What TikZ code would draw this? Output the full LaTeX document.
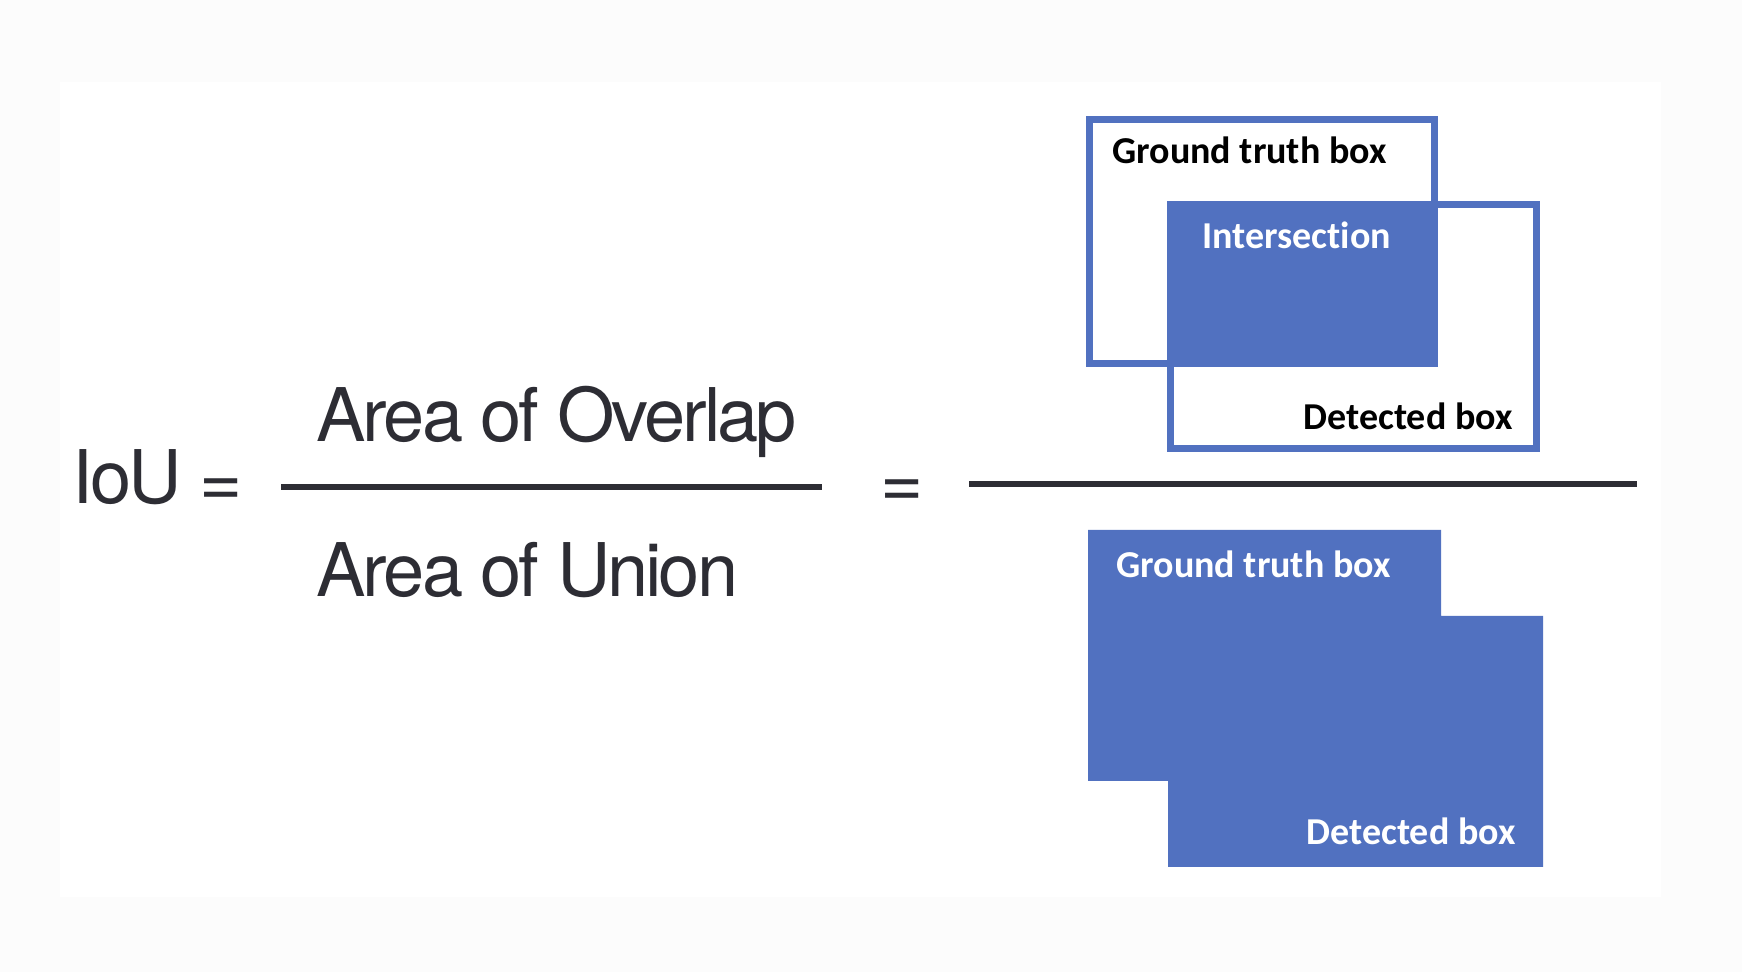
\documentclass[tikz,border=0pt]{standalone}
\usepackage{fontspec}
\newfontfamily\formfont[LetterSpace=-4]{TeX Gyre Heros}
\newfontfamily\boxfont[Ligatures=NoCommon]{Carlito}
\definecolor{boxblue}{RGB}{81,113,192}
\definecolor{inkgray}{RGB}{45,45,52}
\definecolor{outerbg}{RGB}{252,252,252}
\tikzset{
  formula/.style={font=\formfont\fontsize{37}{44}\selectfont, text=inkgray, inner sep=0pt, anchor=base west},
  lbl/.style={font=\boxfont\bfseries\fontsize{19}{23}\selectfont, inner sep=0pt, anchor=base west},
  outline/.style={draw=boxblue, line width=3.5pt},
  fillbox/.style={fill=boxblue},
  fracbar/.style={draw=inkgray, line width=2.7pt},
}
\begin{document}
\begin{tikzpicture}[x=0.5pt,y=-0.5pt]
\fill[outerbg] (0,0) rectangle (1742,972);
\fill[white] (60,82) rectangle (1661,897);
\useasboundingbox (0,0) rectangle (1742,972);

% left formula
\node[formula] (iou) at (72,504) {IoU};
\node[formula, anchor=base] (eq1) at (221,507) {=};
\node[formula] (overlap) at (316,442) {Area of Overlap};
\node[formula] (union) at (316,597) {Area of Union};
\coordinate (f1a) at (281,487);
\coordinate (f1b) at (822,487);
\draw[fracbar] (f1a) -- (f1b);

\node[formula, anchor=base] (eq2) at (902,508) {=};
\coordinate (f2a) at (969,484);
\coordinate (f2b) at (1637,484);
\draw[fracbar, line width=3pt] (f2a) -- (f2b);

% top: intersection
\draw[outline] (1089.2,119.2) rectangle (1434.5,363.2);
\draw[outline] (1170.2,204.5) rectangle (1536.5,448.2);
\fill[fillbox] (1166.7,201) rectangle (1438,366.7);
\node[lbl] (gt1) at (1112,164) {Ground truth box};
\node[lbl, text=white] (inter) at (1202,249) {Intersection};
\node[lbl, anchor=base east] (det1) at (1513,430) {Detected box};

% bottom: union
\fill[fillbox] (1088,530) -- (1441,530) -- (1441,616) -- (1543,616) -- (1543,867)
  -- (1168,867) -- (1168,781) -- (1088,781) -- cycle;
\node[lbl, text=white] (gt2) at (1116,578) {Ground truth box};
\node[lbl, text=white, anchor=base east] (det2) at (1516,845) {Detected box};
\end{tikzpicture}
\end{document}
